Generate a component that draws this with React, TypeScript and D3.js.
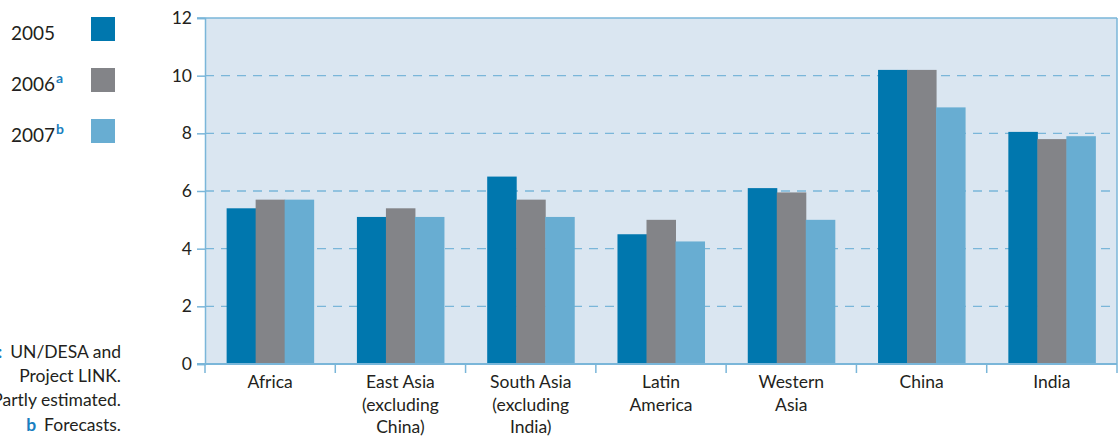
import React, { useEffect, useRef } from "react";
import * as d3 from "d3";

const regions = [
  ["Africa"],
  ["East Asia", "(excluding", "China)"],
  ["South Asia", "(excluding", "India)"],
  ["Latin", "America"],
  ["Western", "Asia"],
  ["China"],
  ["India"],
];
const years = ["2005", "2006", "2007"];
const yearNotes = ["", "a", "b"];
const v2005 = [5.4, 5.1, 6.5, 4.5, 6.1, 10.2, 8.05];
const v2006 = [5.7, 5.4, 5.7, 5.0, 5.95, 10.2, 7.8];
const v2007 = [5.7, 5.1, 5.1, 4.25, 5.0, 8.9, 7.9];
const yTicks = [0, 2, 4, 6, 8, 10, 12];

const colors = ["#0077ae", "#838488", "#68add2"];
const axisColor = "#7ab6d9";
const noteColor = "#1a7fc0";
const font = "Lato, 'Open Sans', sans-serif";

const App: React.FC = () => {
  const svgRef = useRef<SVGSVGElement>(null);

  useEffect(() => {
    if (!svgRef.current) return;
    const root = d3.select(svgRef.current);
    root.selectAll("*").remove();

    const width = 1120;
    const height = 439;
    const margin = { top: 18, right: 3, bottom: 75, left: 205 };
    const innerW = width - margin.left - margin.right;
    const innerH = height - margin.top - margin.bottom;

    root.attr("width", width).attr("height", height);

    const g = root
      .append("g")
      .attr("transform", `translate(${margin.left},${margin.top})`);

    const names = regions.map((r) => r.join(" "));
    const x = d3.scaleBand().domain(names).range([0, innerW]).padding(0);
    const x1 = d3
      .scaleBand()
      .domain(years)
      .range([x.bandwidth() * 0.166, x.bandwidth() * 0.834])
      .padding(0);
    const y = d3.scaleLinear().domain([0, 12]).range([innerH, 0]);

    g.append("rect")
      .attr("width", innerW)
      .attr("height", innerH)
      .attr("fill", "#dae6f1");

    // dashed grid
    g.selectAll(".grid")
      .data(yTicks.filter((t) => t > 0 && t < 12))
      .join("line")
      .attr("x1", 0)
      .attr("x2", innerW)
      .attr("y1", (d) => y(d))
      .attr("y2", (d) => y(d))
      .attr("stroke", axisColor)
      .attr("stroke-width", 1.3)
      .attr("stroke-dasharray", "9,7");

    // bars
    const series = [v2005, v2006, v2007];
    names.forEach((n, i) => {
      g.selectAll(null)
        .data(years)
        .join("rect")
        .attr("x", (yr) => x(n)! + x1(yr)!)
        .attr("width", x1.bandwidth() + 0.5)
        .attr("y", (yr, k) => y(series[k][i]))
        .attr("height", (yr, k) => innerH - y(series[k][i]))
        .attr("fill", (yr, k) => colors[k]);
    });

    // frame
    g.append("line")
      .attr("x1", -8)
      .attr("x2", innerW)
      .attr("y1", 0)
      .attr("y2", 0)
      .attr("stroke", axisColor)
      .attr("stroke-width", 1.5);
    g.append("line")
      .attr("x1", innerW)
      .attr("x2", innerW)
      .attr("y1", 0)
      .attr("y2", innerH + 9)
      .attr("stroke", axisColor)
      .attr("stroke-width", 1.5);

    // y axis
    const yAxis = g
      .append("g")
      .call(d3.axisLeft(y).tickValues(yTicks).tickSize(8).tickPadding(5));
    yAxis.select(".domain").attr("stroke", axisColor).attr("stroke-width", 1.5);
    yAxis.selectAll(".tick line").attr("stroke", axisColor).attr("stroke-width", 1.5);
    yAxis
      .selectAll(".tick text")
      .attr("fill", "#231f20")
      .attr("font-family", font)
      .attr("font-size", 17.5);

    // x axis
    const xAxis = g.append("g").attr("transform", `translate(0,${innerH})`);
    xAxis
      .append("line")
      .attr("x1", -8)
      .attr("x2", innerW)
      .attr("stroke", axisColor)
      .attr("stroke-width", 2);
    xAxis
      .selectAll(".xt")
      .data(names)
      .join("line")
      .attr("x1", (d) => x(d)!)
      .attr("x2", (d) => x(d)!)
      .attr("y1", 0)
      .attr("y2", 9)
      .attr("stroke", axisColor)
      .attr("stroke-width", 1.5);
    regions.forEach((lines, i) => {
      const cx = x(names[i])! + x.bandwidth() / 2;
      const t = xAxis
        .append("text")
        .attr("x", cx)
        .attr("y", 24)
        .attr("text-anchor", "middle")
        .attr("font-family", font)
        .attr("font-size", 17.5)
        .attr("fill", "#231f20");
      lines.forEach((l, j) => {
        t.append("tspan")
          .attr("x", cx)
          .attr("dy", j === 0 ? 0 : 22.5)
          .text(l);
      });
    });

    // legend
    const legend = root.append("g");
    years.forEach((yr, k) => {
      const ly = 17 + k * 51;
      legend
        .append("rect")
        .attr("x", 91)
        .attr("y", ly)
        .attr("width", 24)
        .attr("height", 24)
        .attr("fill", colors[k]);
      const t = legend
        .append("text")
        .attr("x", 11)
        .attr("y", ly + 23)
        .attr("font-family", font)
        .attr("font-size", 19)
        .attr("fill", "#231f20")
        .text(yr);
      if (yearNotes[k]) {
        t.append("tspan")
          .attr("dx", 1)
          .attr("dy", -8)
          .attr("font-size", 14)
          .attr("font-weight", "bold")
          .attr("fill", noteColor)
          .text(yearNotes[k]);
      }
    });

    // notes
    const notes = root
      .append("g")
      .attr("font-family", font)
      .attr("font-size", 17.5)
      .attr("fill", "#231f20")
      .attr("text-anchor", "end");
    const n1 = notes.append("text").attr("x", 121).attr("y", 358);
    n1.append("tspan").attr("fill", noteColor).attr("font-weight", "bold").text("Source:");
    n1.append("tspan").attr("dx", 8).text("UN/DESA and");
    notes.append("text").attr("x", 121).attr("y", 382).text("Project LINK.");
    const n3 = notes.append("text").attr("x", 121).attr("y", 406);
    n3.append("tspan").attr("fill", noteColor).attr("font-weight", "bold").text("a");
    n3.append("tspan").attr("dx", 8).text("Partly estimated.");
    const n4 = notes.append("text").attr("x", 121).attr("y", 431);
    n4.append("tspan").attr("fill", noteColor).attr("font-weight", "bold").text("b");
    n4.append("tspan").attr("dx", 8).text("Forecasts.");
  }, []);

  return (
    <svg
      ref={svgRef}
      style={{ position: "absolute", left: 0, top: 0, background: "#fff" }}
    />
  );
};

export default App;
